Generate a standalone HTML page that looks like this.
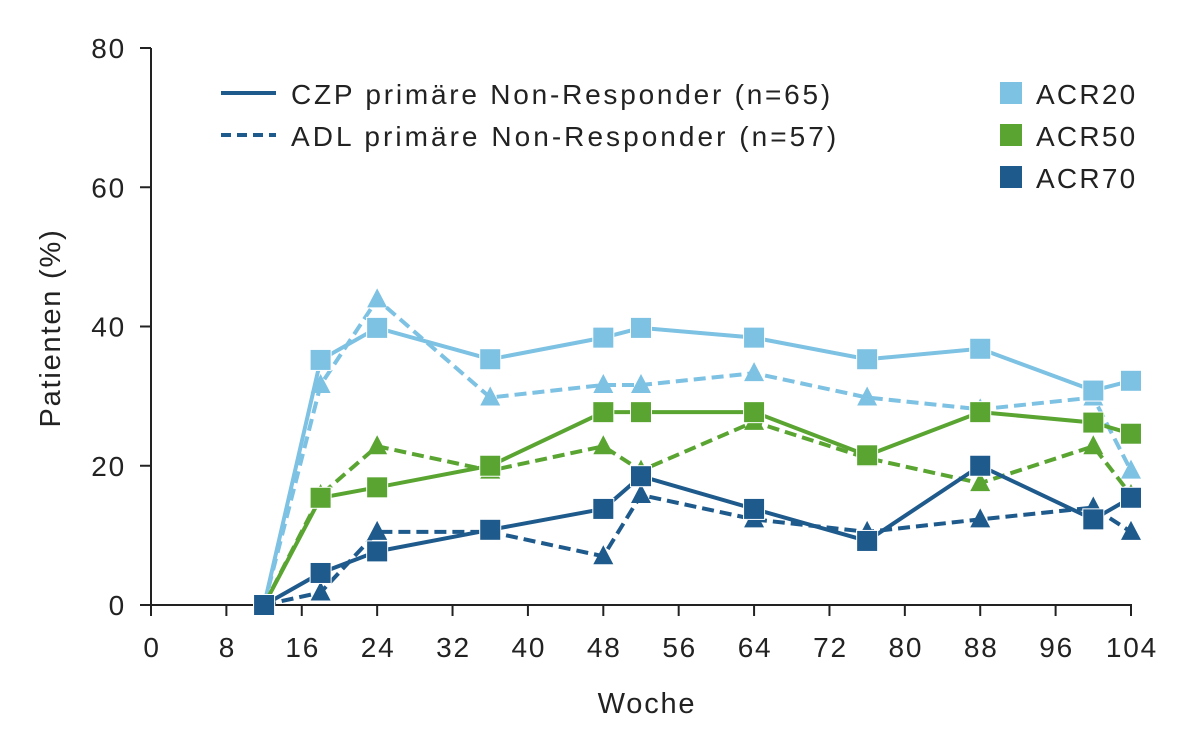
<!DOCTYPE html>
<html><head><meta charset="utf-8"><style>
html,body{margin:0;padding:0;background:#fff;}
svg{display:block;font-family:"Liberation Sans",sans-serif;}
text{letter-spacing:1.8px;}
</style></head><body>
<svg id="s" width="1200" height="750" xmlns="http://www.w3.org/2000/svg"></svg>
<script>
const s=document.getElementById('s');
const X=v=>151+v*9.423, Y=v=>605-v*6.9625;
let h='';
h+=`<line x1="151" y1="48" x2="151" y2="606" stroke="#222" stroke-width="2"/>`;
h+=`<line x1="150" y1="605" x2="1132" y2="605" stroke="#222" stroke-width="2"/>`;
for(let v=0;v<=80;v+=20){h+=`<line x1="140" y1="${Y(v)}" x2="151" y2="${Y(v)}" stroke="#222" stroke-width="2"/><text x="126" y="${Y(v)+10}" font-size="28" text-anchor="end" fill="#222">${v}</text>`;}
for(let v=0;v<=104;v+=8){h+=`<line x1="${X(v)}" y1="605" x2="${X(v)}" y2="616" stroke="#222" stroke-width="2"/><text x="${X(v)+1}" y="657" font-size="28" text-anchor="middle" fill="#222">${v}</text>`;}
h+=`<text x="647" y="713" font-size="29" text-anchor="middle" fill="#222">Woche</text>`;
h+=`<text transform="translate(60,328) rotate(-90)" font-size="29" text-anchor="middle" fill="#222">Patienten (%)</text>`;
const wk=[12,18,24,36,48,52,64,76,88,100,104];
const series=[
['#7dc1e3',[0,35.2,39.8,35.3,38.4,39.8,38.4,35.3,36.8,30.8,32.2],[0,31.6,43.9,29.8,31.6,31.6,33.3,29.8,28.1,29.8,19.3]],
['#5aa532',[0,15.4,16.9,20,27.7,27.7,27.7,21.5,27.7,26.2,24.6],[0,15.8,22.8,19.3,22.8,19.3,26.3,21.1,17.5,22.8,15.8]],
['#1f5a8c',[0,4.6,7.7,10.8,13.8,18.5,13.8,9.2,20,12.3,15.4],[0,1.8,10.5,10.5,7.0,15.8,12.3,10.5,12.3,14,10.5]]];
series.forEach(([c,cz,ad])=>{
 const pa=ad.map((v,i)=>X(wk[i])+','+Y(v)).join(' ');
 h+=`<polyline points="${pa}" fill="none" stroke="${c}" stroke-width="4" stroke-dasharray="12,6"/>`;
 ad.forEach((v,i)=>{const x=X(wk[i]),y=Y(v);h+=`<polygon points="${x},${y-11} ${x+10},${y+8} ${x-10},${y+8}" fill="${c}"/>`;});
 const pc=cz.map((v,i)=>X(wk[i])+','+Y(v)).join(' ');
 h+=`<polyline points="${pc}" fill="none" stroke="${c}" stroke-width="4"/>`;
 cz.forEach((v,i)=>{const x=X(wk[i]),y=Y(v);h+=`<rect x="${x-10.5}" y="${y-10.5}" width="21" height="21" fill="${c}" stroke="#fff" stroke-width="1"/>`;});
});
h+=`<line x1="221" y1="93" x2="276" y2="93" stroke="#1f5a8c" stroke-width="4"/>`;
h+=`<line x1="221" y1="135" x2="276" y2="135" stroke="#1f5a8c" stroke-width="4" stroke-dasharray="10,6"/>`;
h+=`<text x="291" y="104" font-size="28" fill="#222" textLength="541">CZP primäre Non-Responder (n=65)</text>`;
h+=`<text x="291" y="146" font-size="28" fill="#222" textLength="547">ADL primäre Non-Responder (n=57)</text>`;
[['#7dc1e3','ACR20',93],['#5aa532','ACR50',135],['#1f5a8c','ACR70',177]].forEach(([c,t,y])=>{
 h+=`<rect x="1000" y="${y-11}" width="22" height="22" fill="${c}"/><text x="1036" y="${y+11}" font-size="28" fill="#222" textLength="101">${t}</text>`;});
s.innerHTML=h;
</script>
</body></html>
